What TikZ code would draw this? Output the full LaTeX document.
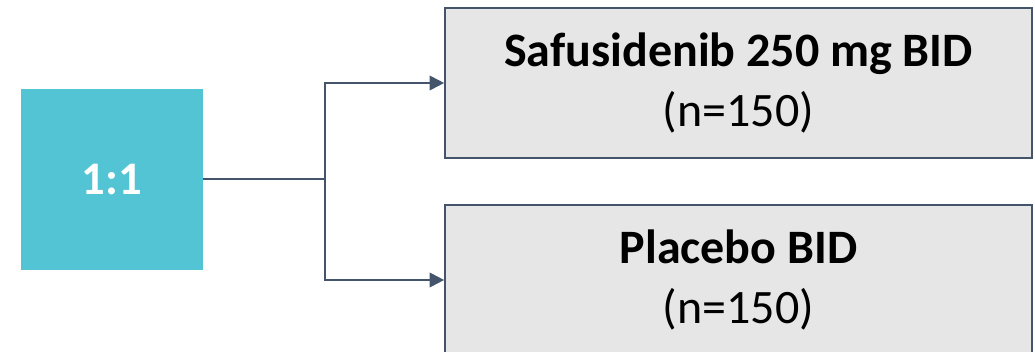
\documentclass[tikz,border=0pt]{standalone}
\usepackage{fontspec}
\setmainfont{Carlito}
\usetikzlibrary{arrows.meta}
\definecolor{teal1}{HTML}{53C4D3}
\definecolor{slate}{HTML}{44546A}
\definecolor{boxgray}{HTML}{E6E6E6}
\begin{document}
\begin{tikzpicture}[x=0.75pt,y=-0.75pt,
  rand/.style={fill=teal1, draw=none, minimum width=136.5pt, minimum height=135.75pt,
    inner sep=0pt, text=white, font=\fontsize{35}{42}\selectfont\bfseries},
  arm/.style={fill=boxgray, draw=slate, line width=1.5pt, minimum width=440pt,
    minimum height=112.5pt, inner sep=0pt, align=center, text=black,
    font=\fontsize{36}{45}\selectfont},
  link/.style={draw=slate, line width=1.5pt},
  tip/.style={-{Triangle[length=11pt,width=11pt]}}]
\useasboundingbox (0,0) rectangle (1035,352);
\node[rand] (r) at (112,179.5) {1:1};
\node[arm] (a) at (738.5,83) {\textbf{Safusidenib 250 mg BID}\\(n=150)};
\node[arm] (b) at (738.5,280) {\textbf{Placebo BID}\\(n=150)};
\coordinate (split) at (325,179.5);
\draw[link] (r.east) -- (split);
\draw[link,tip] (split) |- (a.west);
\draw[link,tip] (split) |- (b.west);
\end{tikzpicture}
\end{document}
